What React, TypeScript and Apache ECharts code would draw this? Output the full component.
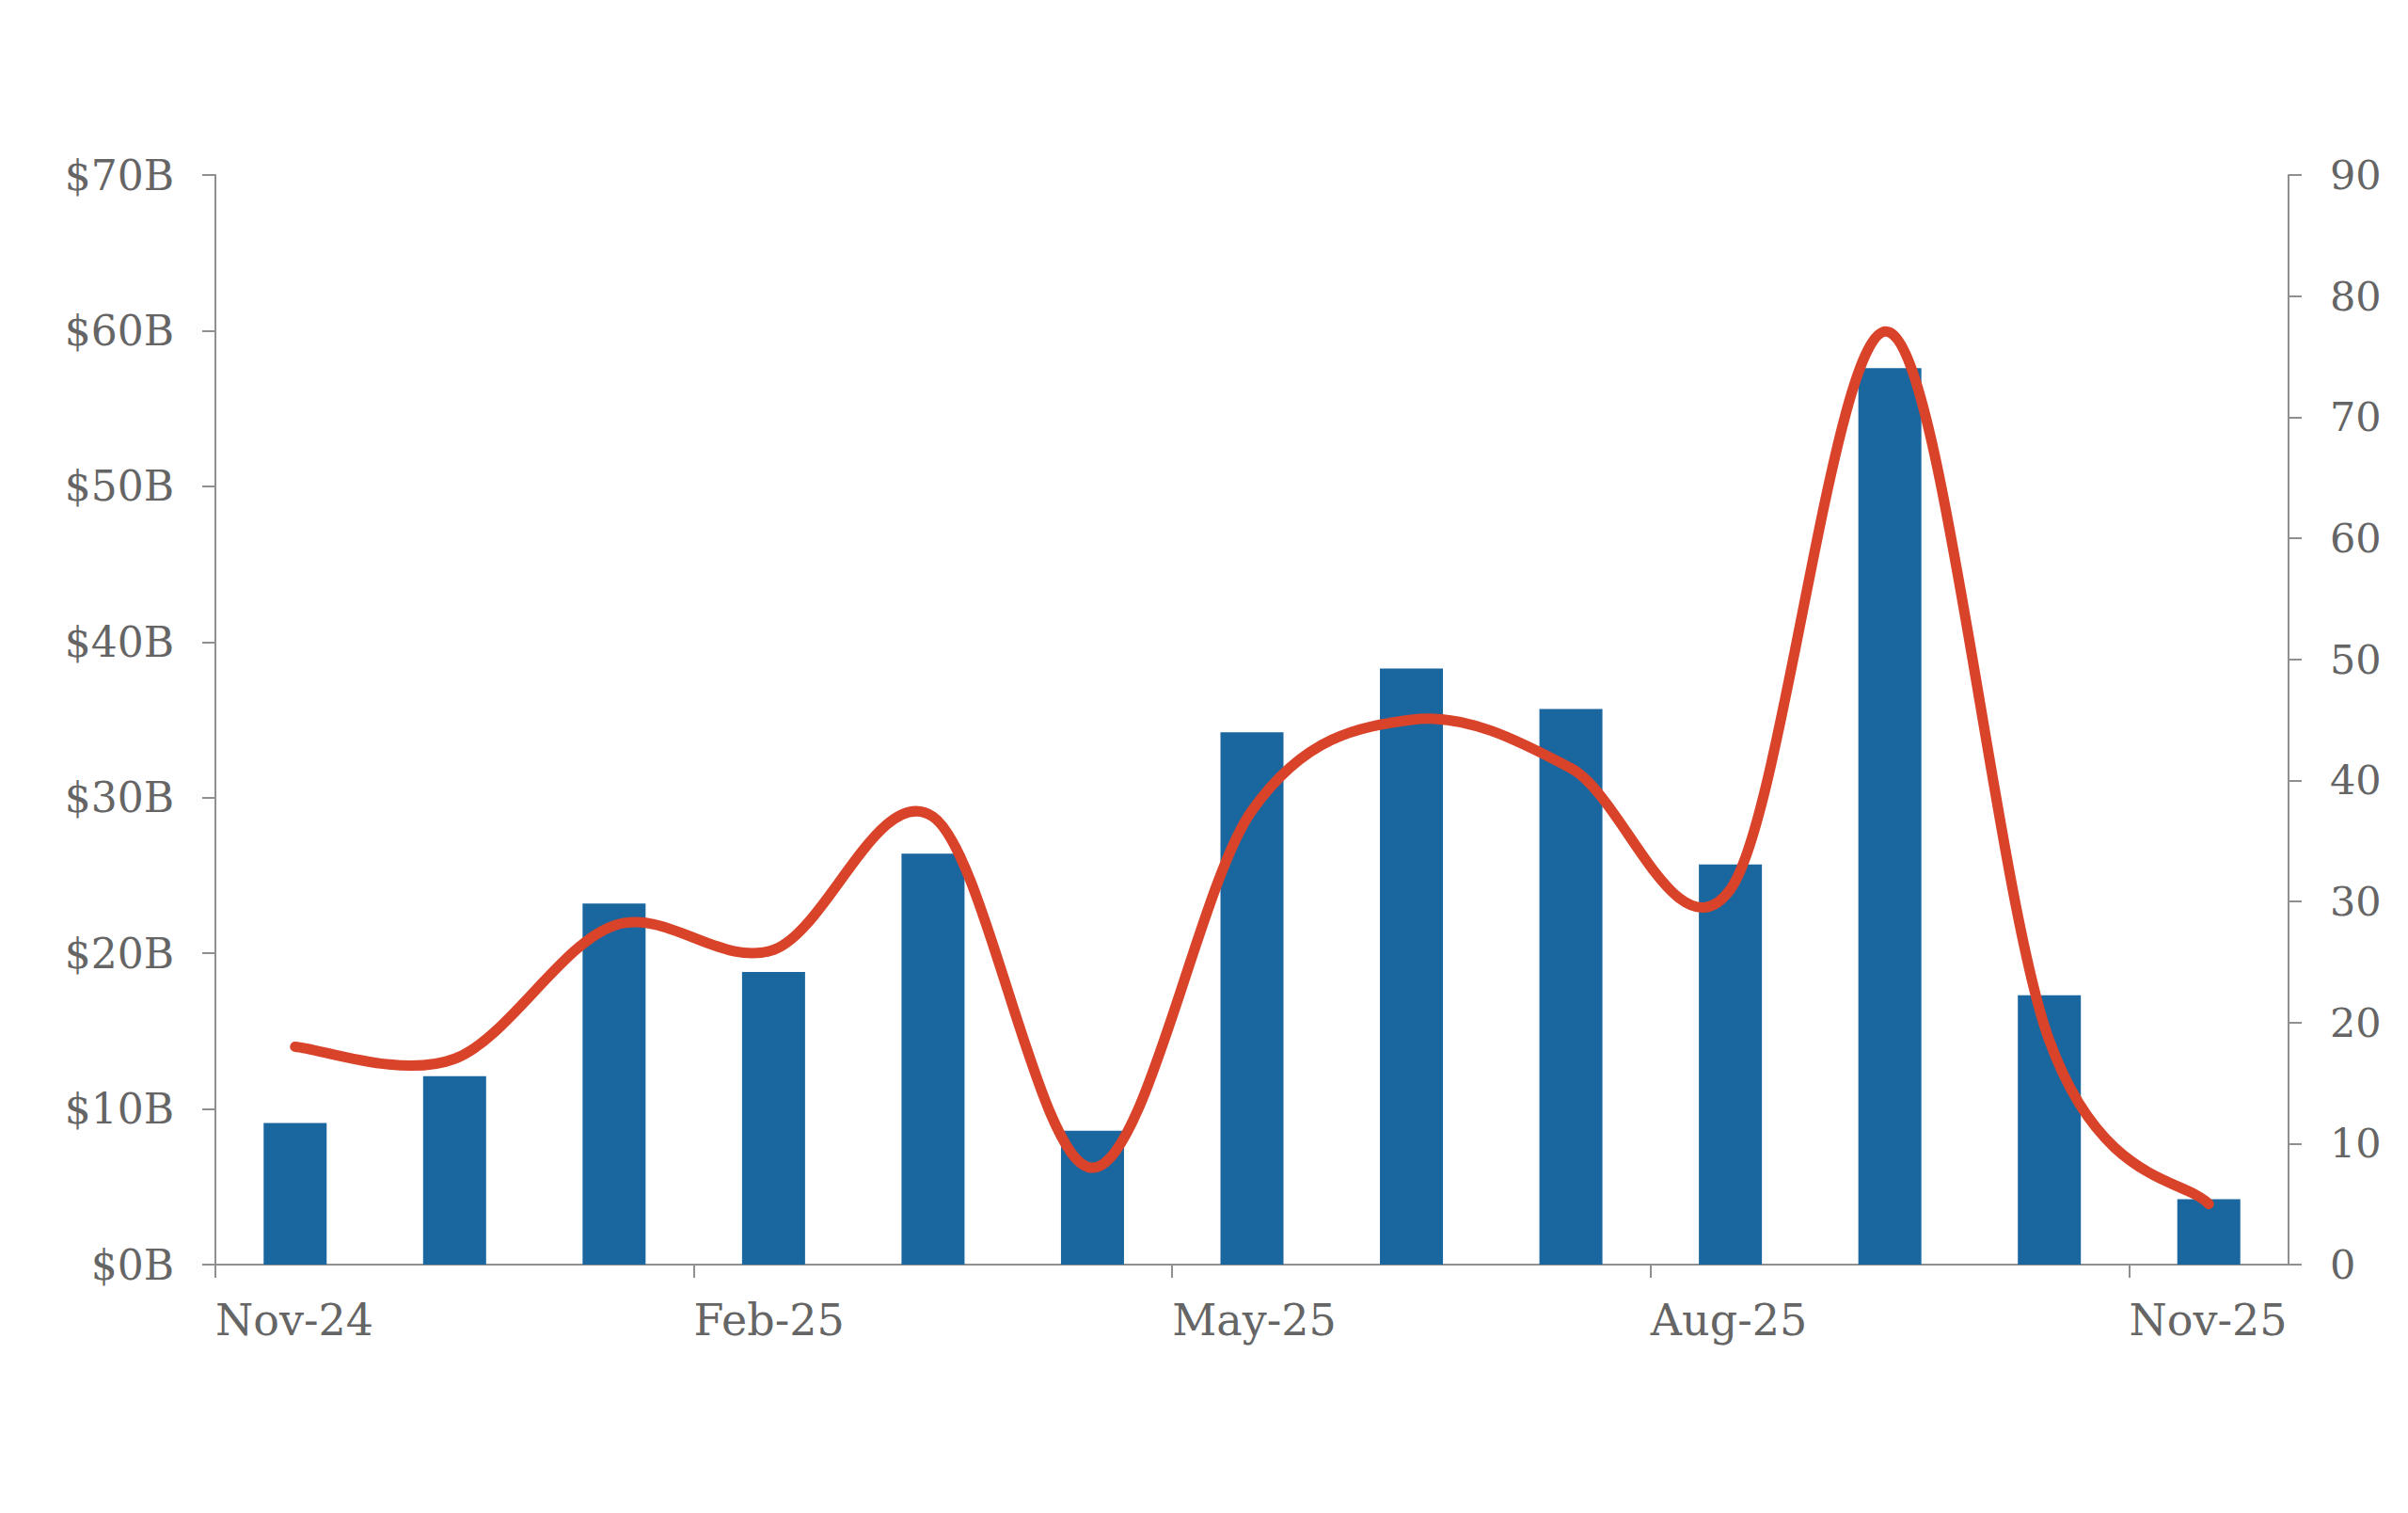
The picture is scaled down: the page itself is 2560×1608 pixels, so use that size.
import React, { useEffect, useRef } from "react";
import * as echarts from "echarts";

const months = [
  "Nov-24", "Dec-24", "Jan-25", "Feb-25", "Mar-25", "Apr-25", "May-25",
  "Jun-25", "Jul-25", "Aug-25", "Sep-25", "Oct-25", "Nov-25",
];
// Deal value, $B (left axis)
const dealValueB = [9.1, 12.1, 23.2, 18.8, 26.4, 8.6, 34.2, 38.3, 35.7, 25.7, 57.6, 17.3, 4.2];
// Deal count (right axis)
const dealCount = [18, 17, 28, 26, 37, 8, 37.5, 45, 41, 31, 77, 18.5, 5];
// Month indices that carry a tick and label on the x axis
const labelledMonthIdx = [0, 3, 6, 9, 12];

const TEXT = "#656565";
const AXIS = "#8f8f8f";
const FONT = "DejaVu Serif";

export default function App() {
  const ref = useRef<HTMLDivElement>(null);

  useEffect(() => {
    if (!ref.current) return;
    const chart = echarts.init(ref.current, undefined, { renderer: "svg" });

    const axisLineStyle = { show: true, lineStyle: { color: AXIS, width: 2 } };
    const tickStyle = { show: true, length: 14, lineStyle: { color: AXIS, width: 2 } };

    const lineData = dealCount.map((v, i) => [i + 0.5, v]);

    // Smoothed (Catmull-Rom style, tension 1/6) line through the points, positioned via the axes' scales
    const renderSmoothLine = (params: any, api: any) => {
      if (params.dataIndex !== 0) return null;
      const pts = lineData.map((d) => api.coord(d));
      const n = pts.length;
      let d = `M${pts[0][0]} ${pts[0][1]}`;
      for (let i = 0; i < n - 1; i++) {
        const p0 = pts[Math.max(i - 1, 0)];
        const p1 = pts[i];
        const p2 = pts[i + 1];
        const p3 = pts[Math.min(i + 2, n - 1)];
        const c1x = p1[0] + (p2[0] - p0[0]) / 6;
        const c1y = p1[1] + (p2[1] - p0[1]) / 6;
        const c2x = p2[0] - (p3[0] - p1[0]) / 6;
        const c2y = p2[1] - (p3[1] - p1[1]) / 6;
        d += ` C${c1x} ${c1y} ${c2x} ${c2y} ${p2[0]} ${p2[1]}`;
      }
      return {
        type: "path",
        shape: { pathData: d },
        style: { fill: "none", stroke: "#d9432a", lineWidth: 11, lineCap: "round", lineJoin: "round" },
      };
    };

    chart.setOption({
      animation: false,
      backgroundColor: "#ffffff",
      grid: { left: 229, right: 127, top: 186, bottom: 264, containLabel: false, outerBoundsMode: "none" },
      xAxis: {
        type: "value",
        min: 0,
        max: months.length,
        interval: 3,
        axisLine: { ...axisLineStyle, onZero: false },
        axisTick: { ...tickStyle, customValues: labelledMonthIdx },
        splitLine: { show: false },
        axisLabel: {
          customValues: labelledMonthIdx,
          formatter: (v: number) => months[Math.round(v)] ?? "",
          align: "left",
          margin: 36,
          color: TEXT,
          fontFamily: FONT,
          fontSize: 46,
        },
      },
      yAxis: [
        {
          type: "value",
          position: "left",
          min: 0,
          max: 70,
          interval: 10,
          axisLine: axisLineStyle,
          axisTick: tickStyle,
          splitLine: { show: false },
          axisLabel: {
            formatter: (v: number) => `$${v}B`,
            margin: 44,
            color: TEXT,
            fontFamily: FONT,
            fontSize: 44,
          },
        },
        {
          type: "value",
          position: "right",
          min: 0,
          max: 90,
          interval: 10,
          axisLine: axisLineStyle,
          axisTick: tickStyle,
          splitLine: { show: false },
          axisLabel: {
            margin: 44,
            color: TEXT,
            fontFamily: FONT,
            fontSize: 43,
          },
        },
      ],
      series: [
        {
          type: "bar",
          name: "Deal value",
          yAxisIndex: 0,
          barWidth: 67,
          itemStyle: { color: "#1a669f" },
          data: dealValueB.map((v, i) => [i + 0.5, v]),
        },
        {
          type: "custom",
          name: "Deal count",
          yAxisIndex: 1,
          renderItem: renderSmoothLine,
          encode: { x: 0, y: 1 },
          clip: false,
          z: 3,
          data: lineData,
        },
      ],
    });

    return () => chart.dispose();
  }, []);

  return (
    <div
      ref={ref}
      style={{ position: "absolute", left: 0, top: 0, width: 2560, height: 1608, background: "#fff" }}
    />
  );
}
